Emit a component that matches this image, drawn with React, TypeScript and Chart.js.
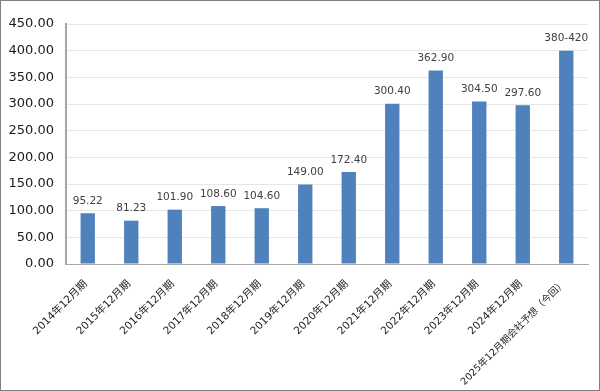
import React, { useEffect, useRef } from "react";
import { Chart, registerables } from "chart.js";

Chart.register(...registerables);

const categories = [
  "2014年12月期",
  "2015年12月期",
  "2016年12月期",
  "2017年12月期",
  "2018年12月期",
  "2019年12月期",
  "2020年12月期",
  "2021年12月期",
  "2022年12月期",
  "2023年12月期",
  "2024年12月期",
  "2025年12月期会社予想（今回）",
];
const values = [95.22, 81.23, 101.9, 108.6, 104.6, 149.0, 172.4, 300.4, 362.9, 304.5, 297.6, 400];
const valueLabels = [
  "95.22",
  "81.23",
  "101.90",
  "108.60",
  "104.60",
  "149.00",
  "172.40",
  "300.40",
  "362.90",
  "304.50",
  "297.60",
  "380-420",
];
const yMin = 0;
const yMax = 450;
const yStep = 50;

const labelPlugin = {
  id: "valueLabels",
  afterDatasetsDraw(chart: any) {
    const ctx = chart.ctx;
    const meta = chart.getDatasetMeta(0);
    ctx.save();
    ctx.font = "10.5px 'DejaVu Sans'";
    ctx.fillStyle = "#404040";
    ctx.textAlign = "center";
    ctx.textBaseline = "bottom";
    meta.data.forEach((bar: any, i: number) => {
      ctx.fillText(valueLabels[i], bar.x, bar.y - 7);
    });
    ctx.restore();
  },
};

export default function App() {
  const ref = useRef<HTMLCanvasElement | null>(null);
  useEffect(() => {
    document.body.style.margin = "0";
    if (!ref.current) return;
    const chart = new Chart(ref.current, {
      type: "bar",
      data: {
        labels: categories,
        datasets: [
          {
            data: values,
            backgroundColor: "#4f81bd",
            barPercentage: 0.33,
            categoryPercentage: 1,
          },
        ],
      },
      options: {
        responsive: false,
        animation: false,
        layout: { padding: { top: 23, right: 11, left: 0, bottom: 0 } },
        plugins: {
          legend: { display: false },
          tooltip: { enabled: false },
        },
        scales: {
          x: {
            grid: { display: false, drawTicks: false },
            border: { display: true, color: "#a6a6a6", width: 1 },
            afterFit: (scale: any) => {
              scale.height = 126;
            },
            ticks: {
              color: "#222222",
              font: (c: any) => ({
                family: "'DejaVu Sans', 'Noto Sans CJK JP'",
                size: c.index === categories.length - 1 ? 9.7 : 10.5,
              }),
              minRotation: 45,
              maxRotation: 45,
              autoSkip: false,
              padding: 14,
              labelOffset: -2,
            },
          },
          y: {
            min: yMin,
            max: yMax,
            afterFit: (scale: any) => {
              scale.width = 65;
            },
            grid: { color: "#e6e6e6", drawTicks: false },
            border: { display: true, color: "#a6a6a6", width: 2 },
            ticks: {
              stepSize: yStep,
              color: "#1a1a1a",
              font: { family: "'DejaVu Sans'", size: 13 },
              padding: 12,
              callback: (v: any) => Number(v).toFixed(2),
            },
          },
        },
      },
      plugins: [labelPlugin],
    });
    return () => chart.destroy();
  }, []);
  return (
    <div
      style={{
        width: 600,
        height: 391,
        border: "1px solid #7f7f7f",
        boxSizing: "border-box",
        background: "#fff",
      }}
    >
      <canvas ref={ref} width={598} height={389} style={{ display: "block" }} />
    </div>
  );
}
